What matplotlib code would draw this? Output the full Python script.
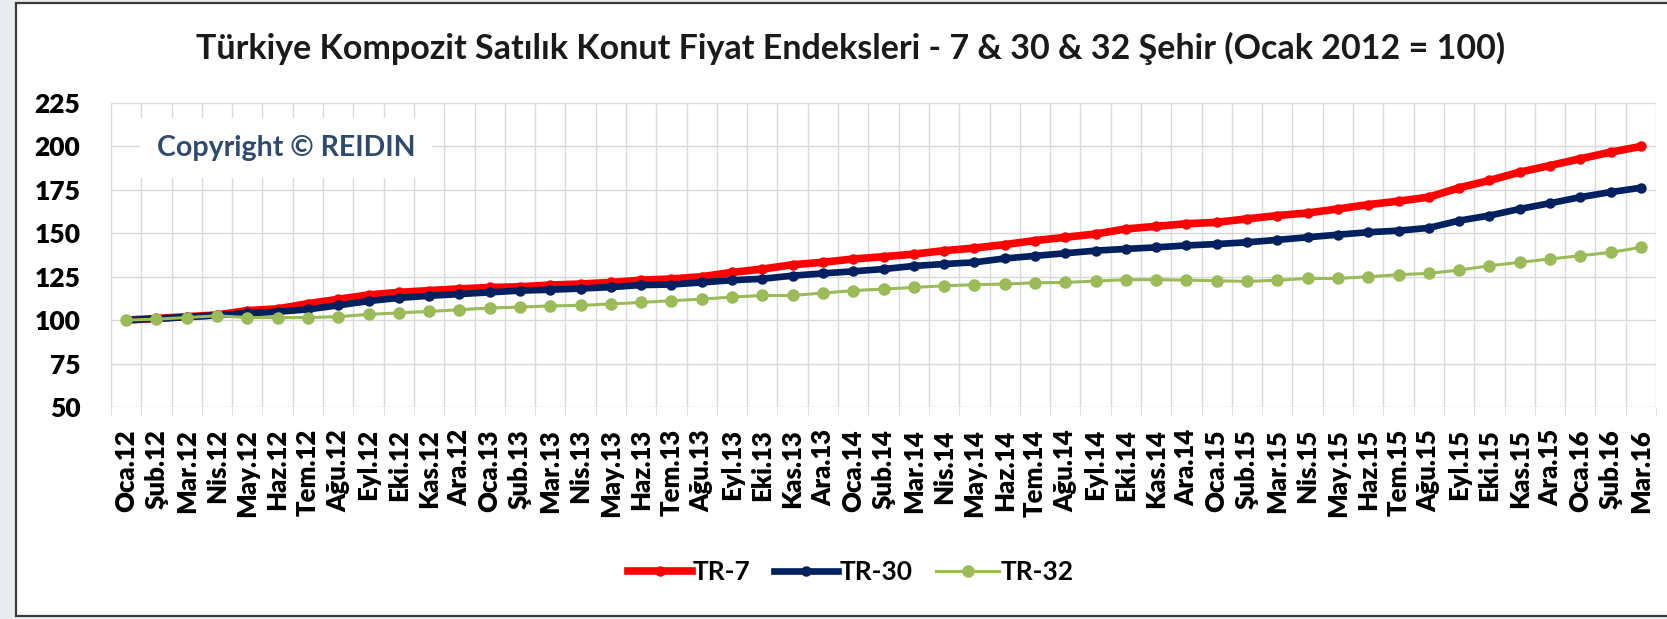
import matplotlib

matplotlib.use("Agg")

import matplotlib.pyplot as plt
from matplotlib.patches import Rectangle

months = [
    "Oca.12", "Şub.12", "Mar.12", "Nis.12", "May.12", "Haz.12", "Tem.12", "Ağu.12", "Eyl.12", "Eki.12", "Kas.12", "Ara.12",
    "Oca.13", "Şub.13", "Mar.13", "Nis.13", "May.13", "Haz.13", "Tem.13", "Ağu.13", "Eyl.13", "Eki.13", "Kas.13", "Ara.13",
    "Oca.14", "Şub.14", "Mar.14", "Nis.14", "May.14", "Haz.14", "Tem.14", "Ağu.14", "Eyl.14", "Eki.14", "Kas.14", "Ara.14",
    "Oca.15", "Şub.15", "Mar.15", "Nis.15", "May.15", "Haz.15", "Tem.15", "Ağu.15", "Eyl.15", "Eki.15", "Kas.15", "Ara.15",
    "Oca.16", "Şub.16", "Mar.16",
]

tr7 = [
    100, 101, 102, 103, 105.5, 106.5, 109.5, 112, 114.5, 116, 117, 118,
    118.8, 119.2, 120.2, 120.8, 121.7, 123, 123.7, 125, 127.5, 129.4, 131.9, 133.3,
    135.2, 136.5, 138, 140, 141.5, 143.5, 145.8, 147.7, 149.6, 152.5, 154, 155.5,
    156.3, 158.3, 160.2, 161.7, 164, 166.5, 168.5, 170.8, 176.2, 180.4, 185.2, 189,
    192.9, 196.7, 200,
]
tr30 = [
    100, 100.8, 101.8, 102.8, 104, 104.8, 106.2, 108.5, 111, 112.8, 114, 115,
    116, 117, 117.5, 118.2, 119, 120.2, 120.5, 121.7, 123, 123.8, 125.6, 126.9,
    128.1, 129.4, 131.2, 132.3, 133.3, 135.5, 137, 138.5, 140, 141, 141.9, 143,
    143.8, 144.8, 146.2, 147.7, 149.2, 150.6, 151.5, 153.1, 157.3, 160.2, 164, 167.3,
    170.8, 173.7, 176.2,
]
tr32 = [
    100, 100.6, 101.5, 102.5, 101.5, 101.5, 101.5, 102, 103.3, 104.2, 105, 106,
    107, 107.5, 108.2, 108.5, 109.3, 110.2, 111.2, 112.1, 113.3, 114.2, 114.2, 115.6,
    117, 117.9, 118.8, 119.8, 120.4, 120.8, 121.5, 121.7, 122.5, 123.3, 123.3, 123,
    122.7, 122.3, 123, 124, 124, 125, 126.2, 126.9, 128.8, 131.3, 133.3, 135.2,
    137.1, 139, 141.9,
]
y_ticks = [50, 75, 100, 125, 150, 175, 200, 225]

FONT = ["Lato", "DejaVu Sans"]
plt.rcParams['font.family'] = FONT

W, H = 1667, 619
fig = plt.figure(figsize=(W / 100, H / 100), dpi=100, facecolor='#e8ebf0')

# white chart frame with dark border (right side runs off the picture)
fig.patches.append(Rectangle((16 / W, 3 / H), 1.0, (616 - 3) / H, transform=fig.transFigure,
                             facecolor='white', edgecolor='#3a3a3a', linewidth=1.6, zorder=-5))

ax = fig.add_axes([111 / W, 1 - 407 / H, (1656 - 111) / W, (407 - 103) / H])
ax.set_zorder(2)
ax.set_facecolor('white')
x = list(range(len(months)))

ax.plot(x, tr7, color='#ff0000', linewidth=5.5, marker='o', markersize=6.5, label='TR-7', zorder=3)
ax.plot(x, tr30, color='#002060', linewidth=4.8, marker='o', markersize=6.5, label='TR-30', zorder=4)
ax.plot(x, tr32, color='#9bbb59', linewidth=2.2, marker='o', markersize=8, label='TR-32', zorder=5)

ax.set_xlim(-0.5, len(months) - 0.5)
ax.set_ylim(50, 225)
ax.set_yticks(y_ticks)
ax.set_xticks(x)
ax.set_xticklabels(months, rotation=90, fontsize=18.5, fontweight='heavy')
ax.set_xticks([i - 0.5 for i in range(len(months) + 1)], minor=True)
for lbl in ax.get_yticklabels():
    lbl.set_fontsize(19)
    lbl.set_fontweight('heavy')

ax.grid(True, which='major', axis='y', color='#d9d9d9', linewidth=1)
ax.grid(True, which='minor', axis='x', color='#d9d9d9', linewidth=1)
ax.tick_params(axis='x', which='major', length=0, pad=16)
ax.tick_params(axis='x', which='minor', length=6, color='#d9d9d9')
ax.tick_params(axis='y', length=0, pad=22)
for s in ax.spines.values():
    s.set_visible(False)

fig.text(851 / W, 1 - 48 / H,
         "Türkiye Kompozit Satılık Konut Fiyat Endeksleri - 7 & 30 & 32 Şehir (Ocak 2012 = 100)",
         ha='center', va='center', fontsize=24.5, fontweight='bold', color='#1a1a1a')

ax.text(157 / W, 1 - 148 / H, "Copyright © REIDIN", transform=fig.transFigure,
        ha='left', va='center', fontsize=20.5, fontweight='bold', color='#2e4a6e', zorder=6,
        bbox=dict(facecolor='white', edgecolor='none', pad=12))

fig.legend(loc='center', bbox_to_anchor=(851 / W, 1 - 572 / H), ncol=3, frameon=False,
           handlelength=2.4, columnspacing=0.9, handletextpad=0.05,
           prop={'weight': 'bold', 'size': 19})

fig.savefig("out.png", dpi=100, facecolor=fig.get_facecolor())
